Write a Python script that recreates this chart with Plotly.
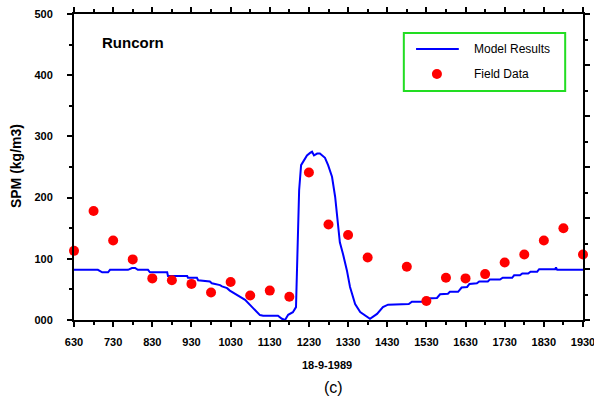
import plotly.graph_objects as go

# ---- data ----
field_time = [6.5, 7.0, 7.5, 8.0, 8.5, 9.0, 9.5, 10.0, 10.5, 11.0, 11.5, 12.0, 12.5, 13.0,
              13.5, 14.0, 15.0, 15.5, 16.0, 16.5, 17.0, 17.5, 18.0, 18.5, 19.0, 19.5]
field_spm = [113, 178, 130, 99, 68, 65, 59, 45, 62, 40, 48, 38, 241, 156,
             139, 102, 87, 31, 69, 68, 75, 94, 107, 130, 150, 107]

model_time = [6.5, 7.11, 7.22, 7.37, 7.42, 7.88, 7.98, 8.06, 8.13, 8.39, 8.44, 8.88, 8.90,
              9.39, 9.41, 9.64, 9.67, 9.97, 10.02, 10.23, 10.28, 10.41, 10.48, 10.56, 10.69,
              10.87, 11.05, 11.2, 11.25, 11.33, 11.71, 11.81, 11.89, 11.97, 12.09, 12.17,
              12.2, 12.25, 12.30, 12.37, 12.45, 12.53, 12.58, 12.63, 12.71, 12.78, 12.91,
              12.99, 13.09, 13.17, 13.24, 13.29, 13.37, 13.47, 13.55, 13.68, 13.81, 13.98,
              14.06, 14.24, 14.39, 14.52, 14.75, 15.05, 15.13, 15.40, 15.50, 15.77, 15.85,
              16.05, 16.10, 16.31, 16.40, 16.54, 16.60, 16.79, 16.85, 17.07, 17.12, 17.38,
              17.45, 17.69, 17.74, 17.89, 17.95, 18.10, 18.16, 18.33, 18.38, 18.79, 18.81,
              18.84, 19.5]
model_spm = [82, 82, 78, 78, 82, 82, 85, 85, 82, 82, 78, 78, 72,
             72, 69, 69, 65, 63, 60, 57, 55, 52, 48, 45, 40,
             33, 21, 10, 8, 7, 7, 2, 0, 8.5, 12.8, 21,
             109, 212, 253, 261, 269, 273, 275, 269, 272, 272, 265,
             253, 234, 201, 163, 127, 108, 81, 54, 26, 13, 5,
             2, 10, 21, 25, 25, 26, 30, 30, 35, 36, 42,
             43, 46, 46, 53, 54, 59, 60, 63, 63, 66, 66,
             69, 69, 73, 73, 76, 76, 79, 79, 83, 83, 86,
             82, 82]

x_tickvals = [6.5 + i for i in range(14)]
x_ticktext = ["630", "730", "830", "930", "1030", "1130", "1230", "1330", "1430",
              "1530", "1630", "1730", "1830", "1930"]
y_tickvals = [0, 100, 200, 300, 400, 500]
y_ticktext = ["000", "100", "200", "300", "400", "500"]

FONT = "Liberation Sans, Arial, sans-serif"

fig = go.Figure()
fig.add_trace(go.Scatter(x=model_time, y=model_spm, mode="lines", name="Model Results",
                         line=dict(color="#0000ff", width=2), showlegend=False))
fig.add_trace(go.Scatter(x=field_time, y=field_spm, mode="markers", name="Field Data",
                         marker=dict(color="#ff0000", size=10, line=dict(width=0)),
                         cliponaxis=False, showlegend=False))
fig.add_trace(go.Scatter(x=[None], y=[None], yaxis="y2", showlegend=False, hoverinfo="skip"))

fig.update_layout(
    width=594, height=403,
    margin=dict(l=74, r=11, t=14, b=83, autoexpand=False),
    paper_bgcolor="white", plot_bgcolor="white",
    font=dict(family=FONT, color="black"),
    xaxis=dict(range=[6.5, 19.5], tickvals=x_tickvals, ticktext=x_ticktext,
               ticks="outside", ticklen=5, tickwidth=1.5, tickcolor="black",
               showline=True, linecolor="black", linewidth=2, mirror="ticks",
               showgrid=False, zeroline=False, ticklabelstandoff=6,
               ticklabeloverflow="allow",
               tickfont=dict(size=11, weight="bold", family=FONT),
               minor=dict(tickvals=[7 + i for i in range(13)], ticks="outside",
                          ticklen=3, tickwidth=1.5, tickcolor="black", showgrid=False)),
    yaxis=dict(range=[0, 500], tickvals=y_tickvals, ticktext=y_ticktext,
               ticks="outside", ticklen=5, tickwidth=1.5, tickcolor="black",
               showline=True, linecolor="black", linewidth=2,
               showgrid=False, zeroline=False, ticklabelstandoff=12,
               ticklabeloverflow="allow",
               tickfont=dict(size=11, weight="bold", family=FONT),
               minor=dict(tickvals=[50, 150, 250, 350, 450], ticks="outside",
                          ticklen=3, tickwidth=1.5, tickcolor="black", showgrid=False)),
    yaxis2=dict(range=[0, 6], overlaying="y", side="right", dtick=1,
                showticklabels=False, ticks="outside", ticklen=5, tickwidth=1.5,
                tickcolor="black", showline=True, linecolor="black", linewidth=2,
                showgrid=False, zeroline=False,
                minor=dict(dtick=0.5, ticks="outside", ticklen=3, tickwidth=1.5,
                           tickcolor="black", showgrid=False)),
)

def A(text, x, y, size, bold=False, xanchor="center", angle=0):
    return dict(text=text, x=x, y=y, xref="paper", yref="paper", xanchor=xanchor,
                yanchor="middle", textangle=angle, showarrow=False,
                font=dict(size=size, weight="bold" if bold else "normal", family=FONT))

ann = [
    A("SPM (kg/m3)", -0.114, 0.503, 14, True, angle=-90),
    A("18-9-1989", 0.497, -0.147, 11, True),
    A("(c)", 0.509, -0.222, 16),
    A("Runcorn", 0.116, 0.908, 15, True),
    A("Model Results", 0.782, 0.886, 12, xanchor="left"),
    A("Field Data", 0.782, 0.804, 12, xanchor="left"),
]
fig.update_layout(annotations=ann)

shapes = [
    dict(type="rect", xref="paper", yref="paper", x0=0.648, x1=0.965, y0=0.748, y1=0.938,
         line=dict(color="#22dd22", width=2), fillcolor="white", layer="above"),
    dict(type="line", xref="paper", yref="paper", x0=0.672, x1=0.756, y0=0.886, y1=0.886,
         line=dict(color="#0000ff", width=2)),
    dict(type="circle", xref="paper", yref="paper", xsizemode="pixel", ysizemode="pixel",
         xanchor=0.713, yanchor=0.804, x0=-5, x1=5, y0=-5, y1=5,
         fillcolor="#ff0000", line=dict(width=0)),
]
fig.update_layout(shapes=shapes)

fig.write_html("out.html")
